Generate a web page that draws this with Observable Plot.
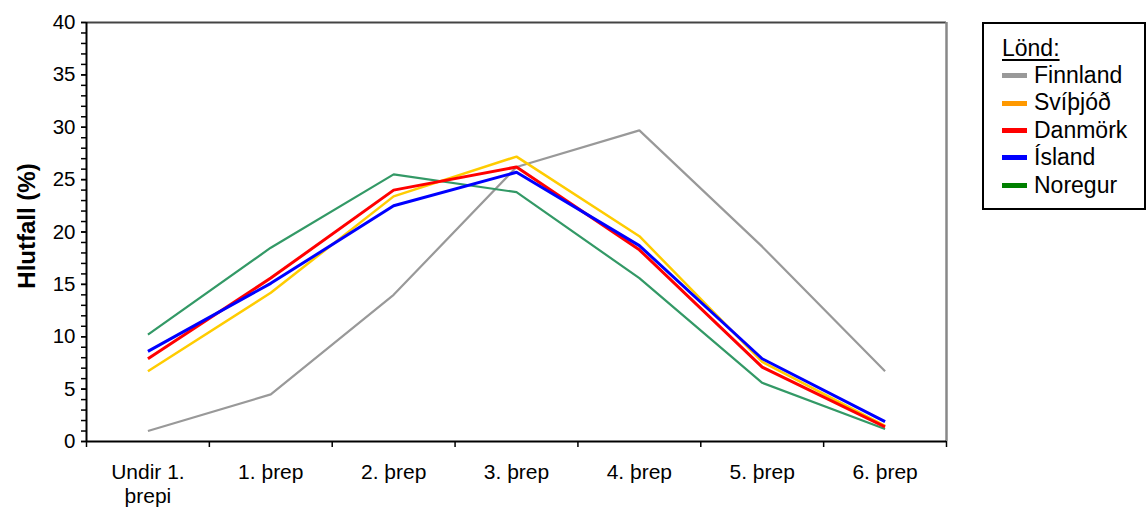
<!DOCTYPE html>
<html>
<head>
<meta charset="utf-8">
<script src="https://cdn.jsdelivr.net/npm/d3@7"></script>
<script src="https://cdn.jsdelivr.net/npm/@observablehq/plot@0.6"></script>
<style>
  html, body { margin: 0; padding: 0; background: #fff; }
  #wrap { position: relative; width: 1148px; height: 507px; font-family: "Liberation Sans", Arial, sans-serif; }
  #legend {
    position: absolute; left: 982px; top: 22px;
    border: 2px solid #000; background: #fff;
    padding: 11px 0 0 18px; box-sizing: border-box; width: 164px; height: 188px;
    font-size: 23px; color: #000;
  }
  #legend .title { line-height: 27px; text-decoration: underline; text-underline-offset: 3px; }
  #legend .row { display: flex; align-items: center; line-height: 27.4px; }
  #legend .sw { width: 25px; height: 5px; margin-right: 7px; }
</style>
</head>
<body>
<div id="wrap"></div>
<script>
// Skill levels on the x axis
const categories = ["Undir 1.\nþrepi", "1. þrep", "2. þrep", "3. þrep", "4. þrep", "5. þrep", "6. þrep"];

// Share of students at each level (%), per country
const countries = ["Finnland", "Svíþjóð", "Danmörk", "Ísland", "Noregur"];
const finnland = [1.0, 4.5, 14.0, 26.2, 29.7, 18.6, 6.7];
const svithjod = [6.7, 14.2, 23.4, 27.2, 19.6, 7.6, 1.5];
const danmork  = [7.9, 15.6, 24.0, 26.2, 18.3, 7.1, 1.4];
const island   = [8.6, 15.1, 22.5, 25.7, 18.7, 7.9, 1.9];
const noregur  = [10.2, 18.5, 25.5, 23.8, 15.6, 5.6, 1.2];

// Line colours and widths, and the swatch colours shown in the legend box
const lineColors  = ["#999999", "#FFCC00", "#FF0000", "#0000FF", "#339966"];
const lineWidths  = [2.2, 2.5, 3, 3, 2.2];
const swatchColors = ["#999999", "#FF9900", "#FF0000", "#0000FF", "#008000"];

// Tick values
const yMajor = d3.range(0, 41, 5);
const yMinor = d3.range(0, 41, 1);
const xBounds = d3.range(-0.5, categories.length, 1);

const seriesValues = [finnland, svithjod, danmork, island, noregur];
const rows = countries.flatMap((c, k) => seriesValues[k].map((v, i) => ({country: c, i, value: v})));

// Drawing order: grey first, then green, yellow, red, blue on top
const drawOrder = ["Finnland", "Noregur", "Svíþjóð", "Danmörk", "Ísland"];

const font = "Liberation Sans, Arial, sans-serif";

const chart = Plot.plot({
  width: 1148,
  height: 507,
  marginLeft: 86,
  marginRight: 202,
  marginTop: 22,
  marginBottom: 66,
  style: {fontFamily: font, background: "#fff", color: "#000"},
  x: {type: "linear", domain: [-0.5, categories.length - 0.5]},
  y: {domain: [0, 40]},
  marks: [
    // minor and major ticks on the value axis
    Plot.axisY({ticks: yMinor, tickSize: 5, tickFormat: () => "", stroke: "#000", strokeWidth: 1.5, label: null}),
    Plot.axisY({ticks: yMajor, tickSize: 5, tickPadding: 6, fontSize: 20.5, stroke: "#000", strokeWidth: 1.5, label: null}),
    // category boundaries and category labels
    Plot.axisX({ticks: xBounds, tickSize: 6, tickFormat: () => "", stroke: "#000", strokeWidth: 1.5, label: null}),
    Plot.axisX({ticks: d3.range(categories.length), tickSize: 0, tickPadding: 20, fontSize: 21,
      tickFormat: i => categories[i], lineHeight: 1.15, label: null}),
    // plot-area frame
    Plot.ruleY([40], {stroke: "#444", strokeWidth: 2}),
    Plot.ruleX([categories.length - 0.5], {stroke: "#888", strokeWidth: 2.5}),
    // one line per country
    ...drawOrder.map(c => {
      const k = countries.indexOf(c);
      return Plot.line(rows.filter(d => d.country === c), {
        x: "i", y: "value", stroke: lineColors[k], strokeWidth: lineWidths[k],
        strokeLinejoin: "miter", strokeLinecap: "butt"
      });
    }),
    // axis lines
    Plot.ruleX([-0.5], {stroke: "#000", strokeWidth: 2}),
    Plot.ruleY([0], {stroke: "#000", strokeWidth: 2}),
    // value axis title
    Plot.text(["Hlutfall (%)"], {frameAnchor: "left", dx: -59, dy: -6, rotate: -90,
      fontSize: 24, fontWeight: "bold", textAnchor: "middle", lineAnchor: "middle"})
  ]
});

const wrap = document.getElementById("wrap");
wrap.appendChild(chart);

// Legend box
const legend = document.createElement("div");
legend.id = "legend";
const title = document.createElement("div");
title.className = "title";
title.textContent = "Lönd:";
legend.appendChild(title);
countries.forEach((c, k) => {
  const row = document.createElement("div");
  row.className = "row";
  const sw = document.createElement("span");
  sw.className = "sw";
  sw.style.background = swatchColors[k];
  const label = document.createElement("span");
  label.textContent = c;
  row.appendChild(sw);
  row.appendChild(label);
  legend.appendChild(row);
});
wrap.appendChild(legend);
</script>
</body>
</html>
